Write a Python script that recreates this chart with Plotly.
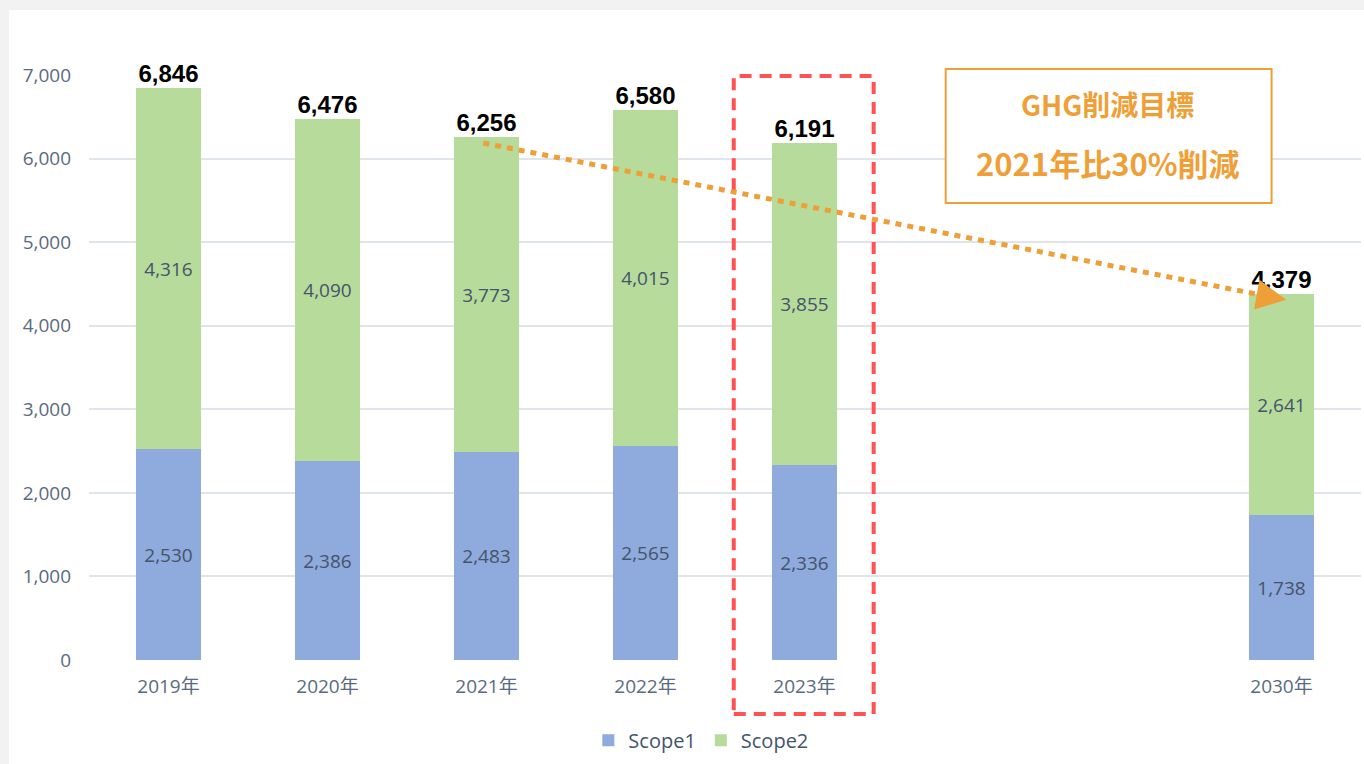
import plotly.graph_objects as go

# ---- data ----
years = ["2019年", "2020年", "2021年", "2022年", "2023年", "2030年"]
scope1 = [2530, 2386, 2483, 2565, 2336, 1738]
scope2 = [4316, 4090, 3773, 4015, 3855, 2641]
totals = [a + b for a, b in zip(scope1, scope2)]
y_ticks = [0, 1000, 2000, 3000, 4000, 5000, 6000, 7000]

# slot of each category on the axis (two empty slots before 2030)
slots = [0, 1, 2, 3, 4, 7]

BLUE = "#8FAADC"
GREEN = "#B7DB9B"
LABEL = "#44546A"
TICK = "#5A6A80"
ORANGE = "#EF9F38"
RED = "#FF5252"
GRID = "#E0E4EB"
FONT = "Open Sans, Noto Sans CJK JP, sans-serif"
CJK = "Noto Sans CJK JP, sans-serif"

fig = go.Figure()
fig.add_trace(go.Bar(
    x=slots, y=scope1, name="Scope1", marker=dict(color=BLUE, line=dict(width=0)),
    width=0.41, text=[f"{v:,}" for v in scope1], textposition="inside",
    insidetextanchor="middle", textangle=0,
    textfont=dict(family=FONT, size=19, color=LABEL), hoverinfo="skip"))
fig.add_trace(go.Bar(
    x=slots, y=scope2, name="Scope2", marker=dict(color=GREEN, line=dict(width=0)),
    width=0.41, text=[f"{v:,}" for v in scope2], textposition="inside",
    insidetextanchor="middle", textangle=0,
    textfont=dict(family=FONT, size=19, color=LABEL), hoverinfo="skip"))
fig.add_trace(go.Scatter(
    x=slots, y=totals, mode="text", text=[f"{v:,}" for v in totals],
    textposition="top center", cliponaxis=False, showlegend=False,
    textfont=dict(family="Liberation Sans, Arial, sans-serif", size=24, color="#000000", weight="bold"),
    hoverinfo="skip"))

shapes = [
    # white panel
    dict(type="rect", xref="paper", yref="paper", x0=-0.0629, x1=1.02, y0=-0.3, y1=1.1111,
         fillcolor="white", line=dict(width=0), layer="below"),
    # red dashed highlight around 2023
    dict(type="rect", xref="x", yref="paper", x0=3.555, x1=4.435, y0=-0.0923, y1=0.9983,
         line=dict(color=RED, width=4, dash="12px,8px"), fillcolor="rgba(0,0,0,0)", layer="above"),
    # orange dotted trend line 2021 -> 2030
    dict(type="line", xref="x", yref="y", x0=1.98, y0=6186, x1=6.88, y1=4365,
         line=dict(color=ORANGE, width=5, dash="6px,6px"), layer="above"),
    # target box
    dict(type="rect", xref="paper", yref="paper", x0=0.6735, x1=0.9297, y0=0.7812, y1=1.0103,
         line=dict(color=ORANGE, width=2), fillcolor="white", layer="above"),
]

annotations = [
    dict(x=7.03, y=4310, xref="x", yref="y", ax=6.85, ay=4370, axref="x", ayref="y",
         text="", showarrow=True, arrowhead=2, arrowsize=1.2, arrowwidth=5, arrowcolor=ORANGE),
    dict(x=0.8008, y=0.9504, xref="paper", yref="paper", text="<b>GHG削減目標</b>",
         xanchor="center", yanchor="middle",
         showarrow=False, font=dict(family=CJK, size=28, color=ORANGE)),
    dict(x=0.8008, y=0.8496, xref="paper", yref="paper", text="<b>2021年比30%削減</b>",
         xanchor="center", yanchor="middle",
         showarrow=False, font=dict(family=CJK, size=31, color=ORANGE)),
]

fig.update_layout(
    width=1364, height=764,
    margin=dict(l=89, r=3, t=75, b=104),
    paper_bgcolor="#F2F2F2", plot_bgcolor="white",
    barmode="stack", bargap=0,
    shapes=shapes, annotations=annotations,
    font=dict(family=FONT, color=TICK),
    legend=dict(orientation="h", x=0.481, xanchor="center", y=-0.137, yanchor="middle",
                traceorder="normal",
                font=dict(family=FONT, size=20, color=LABEL), bgcolor="rgba(0,0,0,0)",
                itemclick=False, itemdoubleclick=False),
    xaxis=dict(range=[-0.5, 7.5], tickvals=slots, ticktext=years, showgrid=False,
               zeroline=False, showline=False, ticks="", ticklabelstandoff=13,
               tickfont=dict(family=FONT, size=19, color=TICK), fixedrange=True),
    yaxis=dict(range=[0, 7000], tickvals=y_ticks, tickformat=",", showgrid=True,
               gridcolor=GRID, gridwidth=2, zeroline=False, showline=False, ticks="",
               ticklabelstandoff=17, tickfont=dict(family=FONT, size=19, color=TICK),
               fixedrange=True),
    showlegend=True,
)

fig.write_html("out.html")
